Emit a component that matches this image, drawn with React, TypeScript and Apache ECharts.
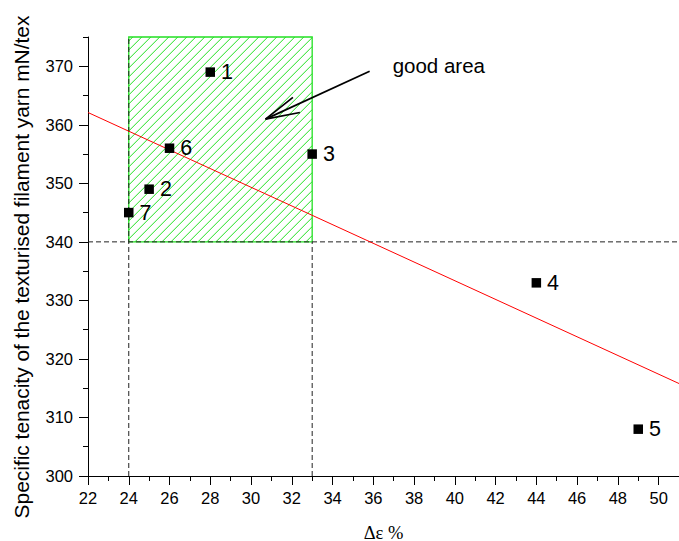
import React, { useEffect, useRef } from 'react';
import * as echarts from 'echarts';

// ---- data ----
const pointX = [28, 25, 33, 44, 49, 26, 24];
const pointY = [369, 349, 355, 333, 308, 356, 345];
const pointLabels = ['1', '2', '3', '4', '5', '6', '7'];

const fitX = [22, 51];
const fitY = [362.1, 315.8];

// good area: xMin, yMin, xMax, yMax
const goodArea = [24, 340, 33, 375];

// dashed guide lines
const guideLeftX = 24;
const guideRightX = 33;
const guideY = 340;

// annotation arrow (from, to) and text position
const arrowFrom = [35.82, 369.15];
const arrowTo = [30.71, 360.97];
const annotationPos = [36.95, 370.1];
const annotationText = 'good area';

// axes
const xMin = 22, xMax = 51;
const yMin = 300, yMax = 375;
const xMajorTicks = [22, 24, 26, 28, 30, 32, 34, 36, 38, 40, 42, 44, 46, 48, 50];
const xMinorTicks = [23, 25, 27, 29, 31, 33, 35, 37, 39, 41, 43, 45, 47, 49, 51];
const yMajorTicks = [300, 310, 320, 330, 340, 350, 360, 370];
const yMinorTicks = [305, 315, 325, 335, 345, 355, 365, 375];

const xAxisName = 'Δε %';
const yAxisName = 'Specific tenacity of the texturised filament yarn mN/tex';

const SANS = '"Liberation Sans", Arial, Helvetica, sans-serif';
const SERIF = '"Liberation Serif", "Times New Roman", serif';
const GREEN = '#22e022';

export default function App() {
  const ref = useRef<HTMLDivElement>(null);

  useEffect(() => {
    document.body.style.margin = '0';
    if (!ref.current) return;
    const chart = echarts.init(ref.current, null, { renderer: 'svg' });

    const baseAxisLine = { show: true, onZero: false, lineStyle: { color: '#000', width: 1 } };

    const option: any = {
      animation: false,
      backgroundColor: '#fff',
      grid: { left: 88, right: 0, top: 37, bottom: 65, containLabel: false, outerBoundsMode: 'none' },
      xAxis: [
        {
          type: 'value', min: xMin, max: xMax, position: 'bottom',
          axisLine: baseAxisLine,
          axisTick: { show: true, length: 9, customValues: xMajorTicks, lineStyle: { color: '#000', width: 1 } },
          axisLabel: { show: true, customValues: xMajorTicks, margin: 13, fontSize: 16.5, fontFamily: SANS, color: '#000' },
          splitLine: { show: false },
          name: xAxisName, nameLocation: 'middle', nameGap: 47,
          nameTextStyle: { fontFamily: SERIF, fontSize: 18.5, color: '#000' },
        },
        {
          type: 'value', min: xMin, max: xMax, position: 'bottom', offset: 0,
          axisLine: { show: false },
          axisTick: { show: true, length: 5, customValues: xMinorTicks, lineStyle: { color: '#000', width: 1 } },
          axisLabel: { show: false },
          splitLine: { show: false },
        },
      ],
      yAxis: [
        {
          type: 'value', min: yMin, max: yMax, position: 'left',
          axisLine: baseAxisLine,
          axisTick: { show: true, length: 9, customValues: yMajorTicks, lineStyle: { color: '#000', width: 1 } },
          axisLabel: { show: true, customValues: yMajorTicks, margin: 15, fontSize: 16.5, fontFamily: SANS, color: '#000' },
          splitLine: { show: false },
        },
        {
          type: 'value', min: yMin, max: yMax, position: 'left', offset: 0,
          axisLine: { show: false },
          axisTick: { show: true, length: 5, customValues: yMinorTicks, lineStyle: { color: '#000', width: 1 } },
          axisLabel: { show: false },
          splitLine: { show: false },
        },
      ],
      graphic: [
        {
          type: 'text', x: 21, y: 267, rotation: Math.PI / 2,
          style: { text: yAxisName, font: `20.9px ${SANS}`, fill: '#000', align: 'center', verticalAlign: 'middle' },
        },
      ],
      series: [
        {
          type: 'custom', z: 1, silent: true, clip: false,
          encode: { x: [0, 2], y: [1, 3] },
          data: [goodArea],
          renderItem: (params: any, api: any) => {
            const tl = api.coord([api.value(0), api.value(3)]);
            const br = api.coord([api.value(2), api.value(1)]);
            const x0 = tl[0], y0 = tl[1], x1 = br[0], y1 = br[1];
            const step = 9;
            const children: any[] = [];
            for (let c = x0 + y0 + 4; c <= x1 + y1; c += step) {
              const lo = Math.max(x0, c - y1);
              const hi = Math.min(x1, c - y0);
              if (hi > lo) {
                children.push({
                  type: 'line',
                  shape: { x1: lo, y1: c - lo, x2: hi, y2: c - hi },
                  style: { stroke: GREEN, lineWidth: 1 },
                });
              }
            }
            children.push({
              type: 'rect',
              shape: { x: x0, y: y0, width: x1 - x0, height: y1 - y0 },
              style: { fill: 'none', stroke: GREEN, lineWidth: 1.3 },
            });
            return { type: 'group', children };
          },
        },
        {
          type: 'line', z: 2, symbol: 'none', silent: true,
          data: [[guideLeftX, yMin], [guideLeftX, yMax]],
          lineStyle: { color: '#222', width: 1, type: [5, 3] },
        },
        {
          type: 'line', z: 2, symbol: 'none', silent: true,
          data: [[guideRightX, yMin], [guideRightX, guideY]],
          lineStyle: { color: '#222', width: 1, type: [5, 3] },
        },
        {
          type: 'line', z: 2, symbol: 'none', silent: true,
          data: [[xMin, guideY], [xMax, guideY]],
          lineStyle: { color: '#222', width: 1, type: [5, 3] },
        },
        {
          type: 'line', z: 3, symbol: 'none', silent: true,
          data: fitX.map((x, i) => [x, fitY[i]]),
          lineStyle: { color: '#ff0000', width: 1 },
        },
        {
          type: 'scatter', z: 4, symbol: 'rect', symbolSize: 9.5,
          itemStyle: { color: '#000', opacity: 1 },
          data: pointX.map((x, i) => ({ value: [x, pointY[i]], name: pointLabels[i] })),
          label: {
            show: true, position: 'right', distance: 6, formatter: '{b}',
            fontSize: 21.5, fontFamily: SANS, color: '#000',
          },
        },
        {
          type: 'custom', z: 5, silent: true, clip: false,
          data: [[arrowFrom[0], arrowFrom[1], arrowTo[0], arrowTo[1], annotationPos[0], annotationPos[1]]],
          renderItem: (params: any, api: any) => {
            const s = api.coord([api.value(0), api.value(1)]);
            const t = api.coord([api.value(2), api.value(3)]);
            const p = api.coord([api.value(4), api.value(5)]);
            const ang = Math.atan2(s[1] - t[1], s[0] - t[0]);
            const len = 35, spread = 0.24;
            const b1 = [t[0] + len * Math.cos(ang - spread), t[1] + len * Math.sin(ang - spread)];
            const b2 = [t[0] + len * Math.cos(ang + spread), t[1] + len * Math.sin(ang + spread)];
            return {
              type: 'group',
              children: [
                { type: 'line', shape: { x1: s[0], y1: s[1], x2: t[0], y2: t[1] }, style: { stroke: '#000', lineWidth: 1.7 } },
                { type: 'polyline', shape: { points: [b1, t, b2] }, style: { stroke: '#000', lineWidth: 1.7, fill: 'none' } },
                {
                  type: 'text', x: p[0], y: p[1],
                  style: { text: annotationText, font: `20.5px ${SANS}`, fill: '#000', align: 'left', verticalAlign: 'middle' },
                },
              ],
            };
          },
        },
      ],
    };

    chart.setOption(option);
    return () => chart.dispose();
  }, []);

  return <div ref={ref} style={{ width: 679, height: 541 }} />;
}
